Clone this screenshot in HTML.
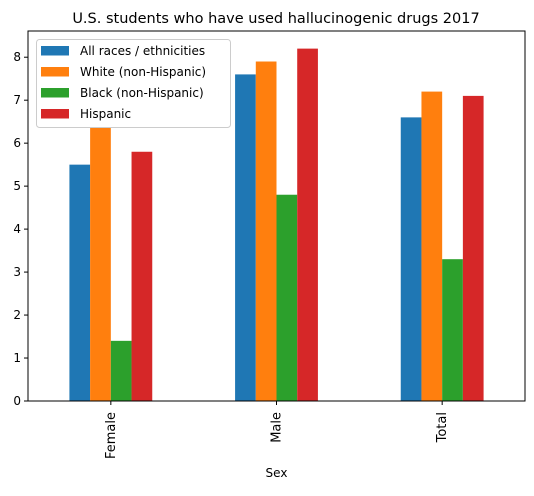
<!DOCTYPE html>
<html><head><meta charset="utf-8"><style>
body{margin:0;background:#fff;font-family:"Liberation Sans","DejaVu Sans",sans-serif;}
</style></head><body>
<svg id="c" width="534" height="491" xmlns="http://www.w3.org/2000/svg" font-family="DejaVu Sans, Liberation Sans, sans-serif">
<text x="276" y="23" text-anchor="middle" font-size="14.5">U.S. students who have used hallucinogenic drugs 2017</text>
<g id="bars"></g>
<g id="axes"></g>
</svg>
<script>
const categories = ["Female","Male","Total"];
const seriesNames = ["All races / ethnicities","White (non-Hispanic)","Black (non-Hispanic)","Hispanic"];
const allRaces = [5.5,7.6,6.6];
const white = [6.6,7.9,7.2];
const black = [1.4,4.8,3.3];
const hispanic = [5.8,8.2,7.1];
const yTicks = [0,1,2,3,4,5,6,7,8];
const colors = ["#1f77b4","#ff7f0e","#2ca02c","#d62728"];
const series=[allRaces,white,black,hispanic];
const L=28,R=525,T=31,B=401,yMax=8.61;
const x=v=>L+(v+0.5)/3*(R-L);
const y=v=>B-v/yMax*(B-T);
const ns="http://www.w3.org/2000/svg";
const mk=(t,a,p)=>{const e=document.createElementNS(ns,t);for(const k in a)e.setAttribute(k,a[k]);p.appendChild(e);return e;};
const bars=document.getElementById('bars'),axes=document.getElementById('axes');
series.forEach((s,si)=>{s.forEach((v,ci)=>{
 const x0=x(ci-0.25+si*0.125),x1=x(ci-0.25+(si+1)*0.125);
 const r=mk('rect',{x:x0,y:y(v),width:x1-x0,height:B-y(v),fill:colors[si]},bars);
 
 
});});
yTicks.forEach(t=>{
 mk('line',{x1:L-4,x2:L,y1:y(t),y2:y(t),stroke:'#000'},axes);
 const tx=mk('text',{x:L-7,y:y(t)+4,'text-anchor':'end','font-size':'12'},axes);tx.textContent=t;
 
 
});
categories.forEach((c,i)=>{
 mk('line',{x1:x(i),x2:x(i),y1:B,y2:B+4,stroke:'#000'},axes);
 const tx=mk('text',{x:x(i)+4,y:B+11,'text-anchor':'end','font-size':'13',transform:`rotate(-90 ${x(i)+4} ${B+11})`},axes);tx.textContent=c;
 
 
});
mk('rect',{x:L,y:T,width:R-L,height:B-T,fill:'none',stroke:'#000','stroke-width':1},axes);
const xl=mk('text',{x:(L+R)/2,y:477,'text-anchor':'middle','font-size':'12'},axes);xl.textContent='Sex';


const lg=mk('g',{},axes);


mk('rect',{x:36.5,y:39.5,width:194,height:88,rx:3,fill:'#fff',stroke:'#ccc'},lg);
seriesNames.forEach((n,i)=>{
 mk('rect',{x:41,y:46+i*21,width:28,height:9.5,fill:colors[i]},lg);
 const t=mk('text',{x:80,y:55+i*21,'font-size':'12'},lg);t.textContent=n;
 
 
});
</script>
</body></html>
